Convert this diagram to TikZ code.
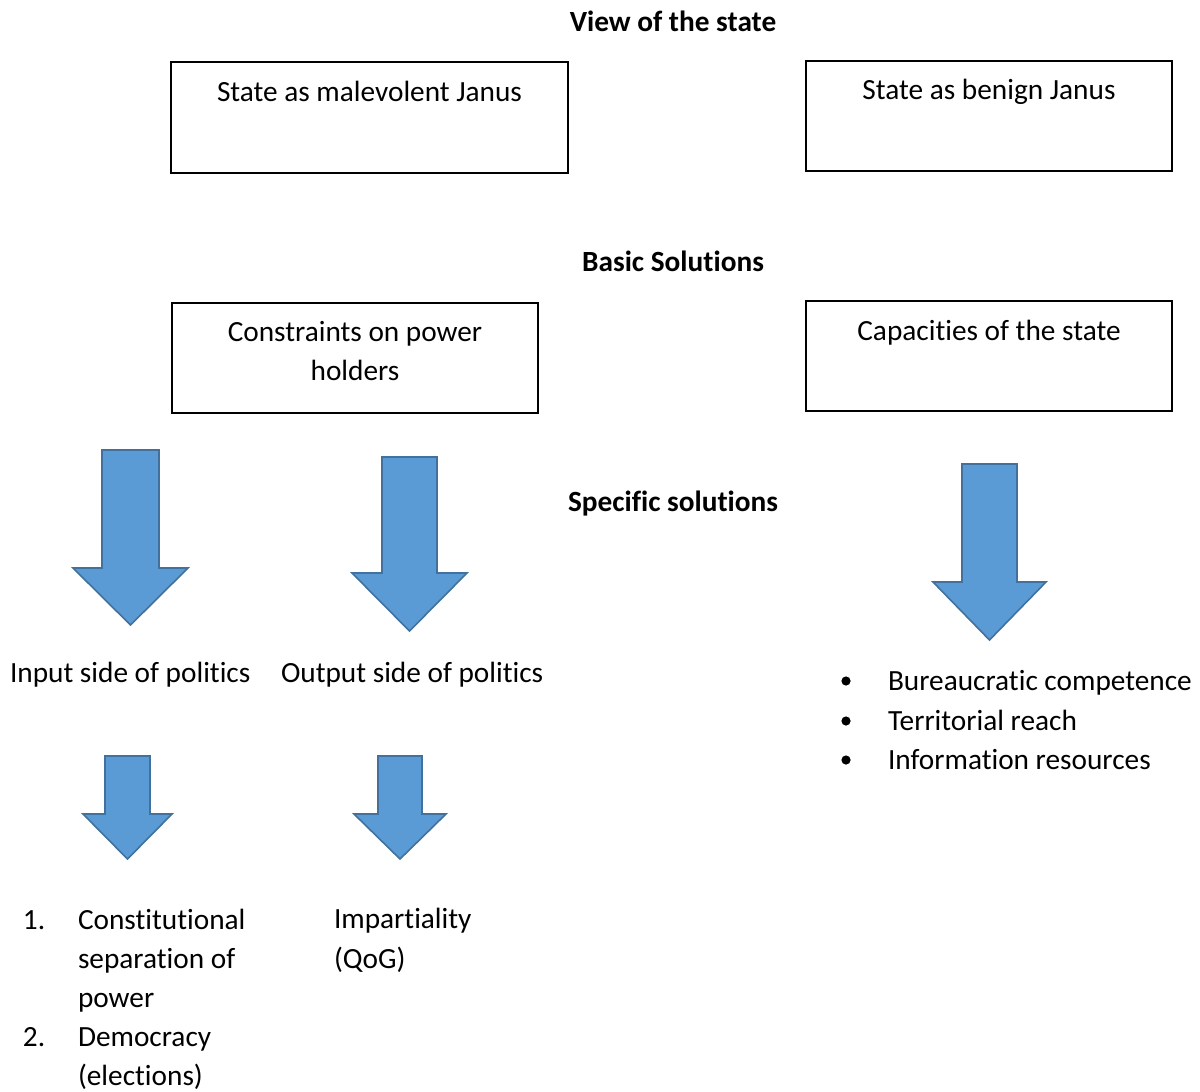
\documentclass[tikz,border=0pt]{standalone}
\usepackage{fontspec}
\setmainfont{Carlito}[Ligatures={NoCommon}]
\definecolor{arrfill}{HTML}{5B9BD5}
\definecolor{arrline}{HTML}{41719C}
\newcommand\blockarrow[7]{% name, cx, shaft half, top, head base, head half, tip
  \draw[arrowshape] (#2-#3,#4) -- (#2+#3,#4) -- (#2+#3,#5) -- (#2+#6,#5) -- (#2,#7) -- (#2-#6,#5) -- (#2-#3,#5) -- cycle;
  \coordinate (#1) at (#2,#4);}
\begin{document}
\begin{tikzpicture}[x=1pt,y=-1pt,
  every node/.style={inner sep=0pt,outer sep=0pt,font=\fontsize{29.3}{39.5}\selectfont},
  boxshape/.style={draw=black,line width=1.2pt},
  headtext/.style={font=\fontsize{29.3}{39.5}\selectfont\bfseries,anchor=base},
  plain/.style={anchor=base},
  lefttext/.style={anchor=base west},
  arrowshape/.style={fill=arrfill,draw=arrline,line width=1.6pt,line join=miter}]
\useasboundingbox (0,0) rectangle (1200,1092);

% headings
\node[headtext] (h1) at (673,31) {View of the state};
\node[headtext] (h2) at (673,271) {Basic Solutions};
\node[headtext] (h3) at (673,511) {Specific solutions};

% boxes
\draw[boxshape] (171,62) rectangle (568,173);
\node[plain] (b1) at (369.5,101) {State as malevolent Janus};
\draw[boxshape] (806,61) rectangle (1172,171);
\node[plain] (b2) at (989,99) {State as benign Janus};
\draw[boxshape] (172,303) rectangle (538,413);
\node[plain] (b3a) at (355,341) {Constraints on power};
\node[plain] (b3b) at (355,380) {holders};
\draw[boxshape] (806,301) rectangle (1172,411);
\node[plain] (b4) at (989,340) {Capacities of the state};

% arrows
\blockarrow{a1}{130.5}{28.5}{450}{568}{57.5}{625}
\blockarrow{a2}{409.5}{27.5}{457}{573}{57.5}{631}
\blockarrow{a3}{989.5}{27.5}{464}{582}{56.5}{640}
\blockarrow{a4}{127.5}{22.5}{756}{814}{44.5}{859}
\blockarrow{a5}{400}{22}{756}{814}{46}{859}

% side labels
\node[lefttext] (in) at (10,682) {Input side of politics};
\node[lefttext] (out) at (281,682) {Output side of politics};

% bullet list
\fill (846,681) circle (4.6);
\fill (846,721) circle (4.6);
\fill (846,760) circle (4.6);
\node[lefttext] (c1) at (888,690) {Bureaucratic competence};
\node[lefttext] (c2) at (888,730) {Territorial reach};
\node[lefttext] (c3) at (888,769) {Information resources};

% numbered list
\node[lefttext] (n1) at (23,929) {1.};
\node[lefttext] (l1) at (78,929) {Constitutional};
\node[lefttext] (l2) at (78,968) {separation of};
\node[lefttext] (l3) at (78,1007) {power};
\node[lefttext] (n2) at (23,1046) {2.};
\node[lefttext] (l4) at (78,1046) {Democracy};
\node[lefttext] (l5) at (78,1085) {(elections)};

\node[lefttext] (i1) at (334,928) {Impartiality};
\node[lefttext] (i2) at (334,968) {(QoG)};
\end{tikzpicture}
\end{document}
